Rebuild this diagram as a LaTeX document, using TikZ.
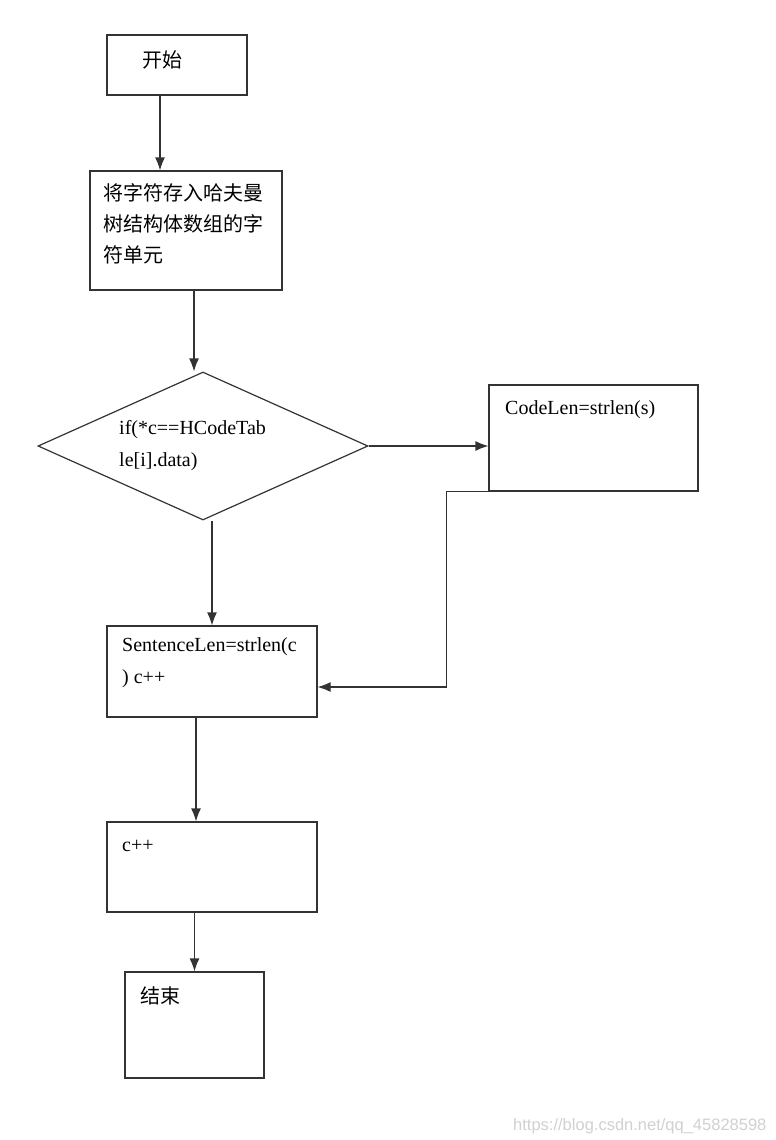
\documentclass[tikz,border=0pt]{standalone}
\usepackage{fontspec}
\setmainfont{Liberation Serif}
\newfontfamily\cjk{Noto Sans CJK SC}
\newfontfamily\wmfont{Liberation Sans}
\usetikzlibrary{shapes.geometric,arrows.meta}
\tikzset{
  box/.style={draw=black!80,line width=1.2pt,inner sep=0pt},
  arr/.style={draw=black!80,line width=1.2pt,-{Latex[length=13pt,width=10pt]}},
  txt/.style={anchor=north west,inner sep=0pt,align=left,font=\fontsize{20}{32}\selectfont}
}
\begin{document}
\begin{tikzpicture}[x=1pt,y=-1pt]
      \useasboundingbox[fill=white] (0,0) rectangle (776,1140);
      % boxes
      \node[box,minimum width=140pt,minimum height=60pt] (start) at (177,65) {};
      \node[box,minimum width=192pt,minimum height=119pt] (store) at (186,230.5) {};
      \node[box,diamond,minimum width=330pt,minimum height=148pt] (cond) at (203,446) {};
      \node[box,minimum width=209pt,minimum height=106pt] (code) at (593.5,438) {};
      \node[box,minimum width=210pt,minimum height=91pt] (sent) at (212,671.5) {};
      \node[box,minimum width=210pt,minimum height=90pt] (inc) at (212,867) {};
      \node[box,minimum width=139pt,minimum height=106pt] (stop) at (194.5,1025) {};
      % texts
      \node[txt,font=\cjk\fontsize{20}{31}\selectfont] (start-t) at (142,50) {开始};
      \node[txt,font=\cjk\fontsize{20}{31}\selectfont] (store-t) at (103,183) {将字符存入哈夫曼\\树结构体数组的字\\符单元};
      \node[txt] (cond-t) at (119,420) {if(*c==HCodeTab\\le[i].data)};
      \node[txt] (code-t) at (505,400) {CodeLen=strlen(s)};
      \node[txt] (sent-t) at (122,637) {SentenceLen=strlen(c\\) c++};
      \node[txt] (inc-t) at (122,840) {c++};
      \node[txt,font=\cjk\fontsize{20}{31}\selectfont] (stop-t) at (140,986) {结束};
      \node[anchor=base west,inner sep=0pt,text=black!18,font=\wmfont\fontsize{16.5}{18}\selectfont] (mark) at (513,1130) {https://blog.csdn.net/qq\_45828598};
      % connectors
      \draw[arr] ([xshift=-17pt]start.south) -- ([xshift=-17pt]start.south |- store.north);
      \draw[arr] ([xshift=8pt]store.south) -- ([xshift=8pt]store.south |- cond.north);
      \draw[arr] (cond.east) -- (cond.east -| code.west);
      \draw[arr] (sent.north |- cond.south) -- (sent.north);
      \draw[arr] (code.south west) -- ++(-42,0) |- ([yshift=-15.5pt]sent.east);
      \draw[arr] ([xshift=-16pt]sent.south) -- ([xshift=-16pt]sent.south |- inc.north);
      \draw[arr] (inc.south -| stop.north) -- (stop.north);
    \end{tikzpicture}
\end{document}
